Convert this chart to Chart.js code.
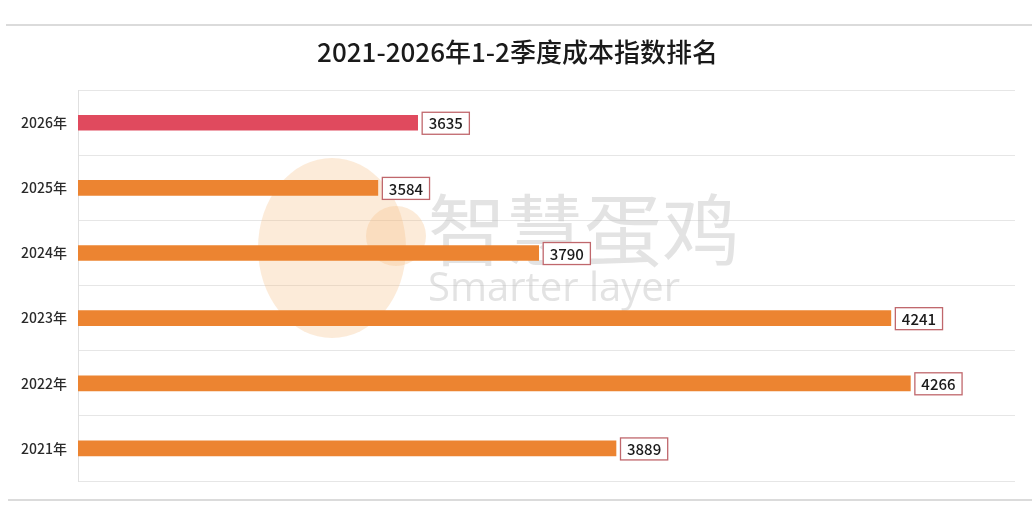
<!DOCTYPE html>
<html>
<head>
<meta charset="utf-8">
<script src="https://cdn.jsdelivr.net/npm/chart.js@4"></script>
<style>
  html, body { margin: 0; padding: 0; background: #fff; }
  #wrap { width: 1032px; height: 509px; position: relative; }
</style>
</head>
<body>
<div id="wrap"><canvas id="myChart"></canvas></div>
<script>
const years = ['2026年', '2025年', '2024年', '2023年', '2022年', '2021年'];
const costIndex = [3635, 3584, 3790, 4241, 4266, 3889];
const barColors = ['#e04a5e', '#ec8431', '#ec8431', '#ec8431', '#ec8431', '#ec8431'];

const fontFamily = '"Noto Sans CJK SC", "Noto Sans", sans-serif';

// boxed value labels at the end of each bar
const valueBoxes = {
	id: 'valueBoxes',
	afterDatasetsDraw(chart) {
		const ctx = chart.ctx;
		const meta = chart.getDatasetMeta(0);
		ctx.save();
		ctx.font = '500 15px ' + fontFamily;
		ctx.textBaseline = 'middle';
		meta.data.forEach((bar, i) => {
			const txt = String(costIndex[i]);
			const w = ctx.measureText(txt).width + 13;
			const x = bar.x + 4;
			const y = bar.y - 11;
			ctx.fillStyle = '#fff';
			ctx.fillRect(x, y, w, 22);
			ctx.strokeStyle = '#c0676c';
			ctx.lineWidth = 1.3;
			ctx.strokeRect(x + 0.5, y + 0.5, w, 22);
			ctx.fillStyle = '#1a1a1a';
			ctx.fillText(txt, x + 7, bar.y + 1);
		});
		ctx.restore();
	}
};

// page rules and faint watermark
const decor = {
	id: 'decor',
	beforeDraw(chart) {
		const ctx = chart.ctx;
		ctx.save();
		ctx.strokeStyle = '#cfcfcf';
		ctx.lineWidth = 1.5;
		ctx.beginPath();
		ctx.moveTo(6, 25); ctx.lineTo(1032, 25);
		ctx.moveTo(8, 500); ctx.lineTo(1032, 500);
		ctx.stroke();
		ctx.restore();
	},
	beforeDatasetsDraw(chart) {
		const ctx = chart.ctx;
		ctx.save();
		ctx.fillStyle = 'rgba(245, 190, 130, 0.3)';
		ctx.beginPath();
		ctx.ellipse(332, 248, 74, 90, 0, 0, Math.PI * 2);
		ctx.fill();
		ctx.beginPath();
		ctx.arc(396, 236, 30, 0, Math.PI * 2);
		ctx.fill();
		ctx.fillStyle = 'rgba(185, 185, 185, 0.4)';
		ctx.font = '78px ' + fontFamily;
		ctx.textBaseline = 'middle';
		ctx.fillText('智慧蛋鸡', 428, 230);
		ctx.font = '40px "Open Sans", sans-serif';
		ctx.fillText('Smarter layer', 428, 290);
		ctx.restore();
	}
};

const ctx = document.getElementById('myChart').getContext('2d');

new Chart(ctx, {
	type: 'bar',
	data: {
		labels: years,
		datasets: [{
			data: costIndex,
			backgroundColor: barColors,
			barThickness: 15
		}]
	},
	options: {
		indexAxis: 'y',
		responsive: true,
		maintainAspectRatio: false,
		animation: false,
		layout: {
			padding: { top: 0, right: 17, bottom: 28, left: 20 }
		},
		plugins: {
			legend: { display: false },
			tooltip: { enabled: false },
			title: {
				display: true,
				text: '2021-2026年1-2季度成本指数排名',
				color: '#1a1a1a',
				font: { size: 26, family: fontFamily, weight: '500' },
				padding: { top: 37, bottom: 22 }
			}
		},
		scales: {
			x: {
				display: false,
				min: 3200,
				max: 4400
			},
			y: {
				afterFit: (scale) => { scale.width = 58; },
				grid: {
					color: '#e6e6e6',
					drawTicks: false,
					offset: true
				},
				border: { color: '#e0e0e0' },
				ticks: {
					color: '#2a2a2a',
					padding: 11,
					font: { size: 14, family: fontFamily, weight: '500' }
				}
			}
		}
	},
	plugins: [decor, valueBoxes]
});
</script>
</body>
</html>
